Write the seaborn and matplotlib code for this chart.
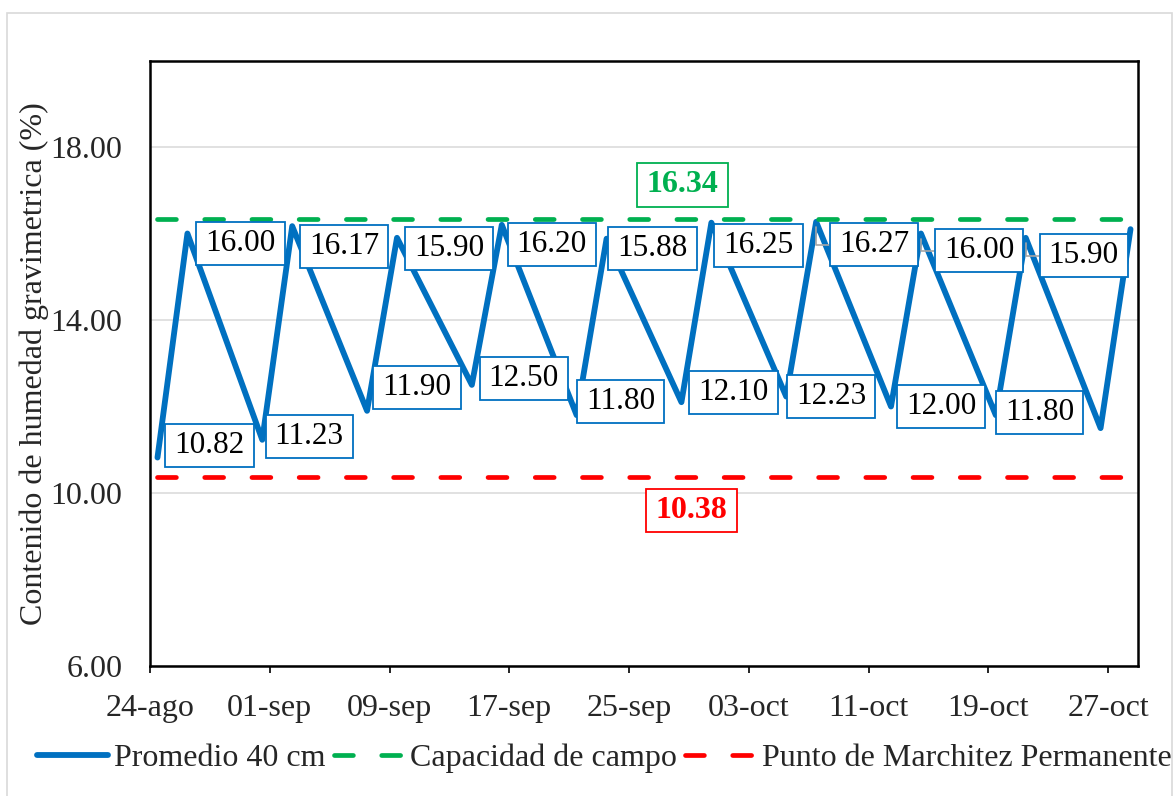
import matplotlib
matplotlib.use("Agg")
import matplotlib.pyplot as plt
from matplotlib.patches import Rectangle
import seaborn as sns
import pandas as pd

# ---------------- data ----------------
fechas = ["2023-08-24", "2023-08-26", "2023-08-31", "2023-09-02", "2023-09-07",
          "2023-09-09", "2023-09-14", "2023-09-16", "2023-09-21", "2023-09-23",
          "2023-09-28", "2023-09-30", "2023-10-05", "2023-10-07", "2023-10-12",
          "2023-10-14", "2023-10-19", "2023-10-21", "2023-10-26", "2023-10-28"]
promedio_40cm = [10.82, 16.00, 11.23, 16.17, 11.90, 15.90, 12.50, 16.20, 11.80, 15.88,
                 12.10, 16.25, 12.23, 16.27, 12.00, 16.00, 11.80, 15.90, 11.50, 16.10]
con_etiqueta = [True] * 18 + [False, False]
capacidad_campo = 16.34
punto_marchitez = 10.38
tick_fechas = ["2023-08-24", "2023-09-01", "2023-09-09", "2023-09-17", "2023-09-25",
               "2023-10-03", "2023-10-11", "2023-10-19", "2023-10-27"]
tick_etiquetas = ["24-ago", "01-sep", "09-sep", "17-sep", "25-sep",
                  "03-oct", "11-oct", "19-oct", "27-oct"]
y_ticks = [6, 10, 14, 18]
nombres = ["Promedio 40 cm", "Capacidad de campo", "Punto de Marchitez Permanente"]

# ---------------- styling / positions ----------------
# label offsets in pixels (dx right, dy up) relative to each point
label_offsets = [(52, 12), (53, -10), (47, 3), (52, -20), (50, 23), (52, -11),
                 (52, 6), (50, -20), (44, 14), (46, -10), (52, 10), (47, -23),
                 (45, 0), (58, -23), (50, 0), (58, -17), (44, 3), (58, -18)]
leader = [False] * 13 + [True, False, True, False, True]

BLUE = "#0070C0"
GREEN = "#00B050"
RED = "#FF0000"

sns.set_style("white")
plt.rcParams["font.family"] = ["Liberation Serif", "DejaVu Serif"]

fig = plt.figure(figsize=(11.76, 7.96), dpi=100)
ax = fig.add_axes([150 / 1176, 1 - 666 / 796, (1138 - 150) / 1176, (666 - 60.5) / 796])

# x positions: Excel date axis places points in the middle of each day
x = pd.to_datetime(fechas) + pd.Timedelta(hours=12)
df = pd.DataFrame({"fecha": x, "valor": promedio_40cm})

sns.lineplot(data=df, x="fecha", y="valor", ax=ax, color=BLUE, lw=4.2,
             label=nombres[0], solid_capstyle="round")
ref = pd.DataFrame({"fecha": [x[0], x[-1]]})
sns.lineplot(x=ref["fecha"], y=[capacidad_campo, capacidad_campo], ax=ax, color=GREEN,
             lw=3.4, label=nombres[1], dashes=False)
sns.lineplot(x=ref["fecha"], y=[punto_marchitez, punto_marchitez], ax=ax, color=RED,
             lw=3.4, label=nombres[2], dashes=False)
for ln in ax.lines[1:3]:
    ln.set_dashes((4, 6))
    ln.set_dash_capstyle("round")

ax.set_xlim(pd.Timestamp("2023-08-24"), pd.Timestamp("2023-10-29"))
ax.set_ylim(6, 20)
ax.set_yticks(y_ticks)
ax.set_yticklabels([f"{v:.2f}" for v in y_ticks])
ax.set_xticks(pd.to_datetime(tick_fechas))
ax.set_xticklabels(tick_etiquetas)

ax.grid(axis="y", color="#D9D9D9", lw=1.1)
ax.grid(axis="x", visible=False)
ax.set_axisbelow(True)
for s in ax.spines.values():
    s.set_color("black")
    s.set_linewidth(1.8)

ax.tick_params(axis="x", direction="out", length=5, width=1.2, color="black",
               labelsize=23, pad=15, bottom=True)
ax.tick_params(axis="y", length=0, labelsize=23, pad=20)
ax.set_xlabel("")
ax.set_ylabel("Contenido de humedad gravimetrica (%)", fontsize=23)
ax.yaxis.set_label_coords(-0.102, 0.5)

# data labels
k = 0
for xi, yi, lab in zip(x, promedio_40cm, con_etiqueta):
    if not lab:
        continue
    dx, dy = label_offsets[k]
    arrow = None
    if leader[k]:
        arrow = dict(arrowstyle="-", color="#A6A6A6", lw=1.2,
                     connectionstyle="angle,angleA=180,angleB=90,rad=0",
                     shrinkA=0, shrinkB=4)
    ax.annotate(f"{yi:.2f}", xy=(xi, yi), xytext=(dx, dy), textcoords="offset pixels",
                ha="center", va="center", fontsize=22.5, color="black",
                bbox=dict(boxstyle="square,pad=0.29", fc="white", ec=BLUE, lw=1.3,
                          mutation_aspect=0.78),
                arrowprops=arrow, zorder=5)
    k += 1

ax.annotate(f"{capacidad_campo:.2f}", xy=(0.539, capacidad_campo),
            xycoords=("axes fraction", "data"), xytext=(0, 34), textcoords="offset pixels",
            ha="center", va="center", fontsize=23, fontweight="bold", color=GREEN,
            bbox=dict(boxstyle="square,pad=0.31", fc="white", ec=GREEN, lw=1.3,
                      mutation_aspect=0.75))
ax.annotate(f"{punto_marchitez:.2f}", xy=(0.548, punto_marchitez),
            xycoords=("axes fraction", "data"), xytext=(0, -34), textcoords="offset pixels",
            ha="center", va="center", fontsize=23, fontweight="bold", color=RED,
            bbox=dict(boxstyle="square,pad=0.31", fc="white", ec=RED, lw=1.3,
                      mutation_aspect=0.75))

ax.legend(loc="center", bbox_to_anchor=(0.514, 0.047), bbox_transform=fig.transFigure,
          ncol=3, frameon=False, fontsize=23, handlelength=2.2, handletextpad=0.2,
          columnspacing=0.25, borderaxespad=0)

fig.add_artist(Rectangle((7 / 1176, -0.05), (1172 - 7) / 1176, 1 - 13 / 796 + 0.05,
                         transform=fig.transFigure, fill=False, ec="#D9D9D9", lw=1.2))

fig.savefig("out.png", dpi=100)
